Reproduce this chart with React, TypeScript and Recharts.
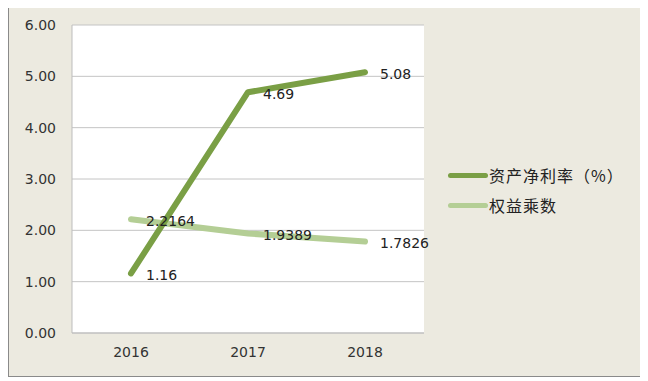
import React from 'react';
import { LineChart, Line, XAxis, YAxis, CartesianGrid } from 'recharts';

const years = ['2016', '2017', '2018'];
const roa = [1.16, 4.69, 5.08];
const equityMultiplier = [2.2164, 1.9389, 1.7826];
const yTicks = [0, 1, 2, 3, 4, 5, 6];

const seriesNames = ['资产净利率（%）', '权益乘数'];
const seriesColors = ['#7A9F45', '#B4CE95'];

const data = years.map((year, i) => ({
  year,
  roa: roa[i],
  em: equityMultiplier[i],
}));

const renderLabel = (props: any) => {
  const { x, y, value } = props;
  return (
    <text
      x={x + 15}
      y={y + 2}
      dominantBaseline="central"
      fontSize={14}
      fontFamily="'DejaVu Sans', sans-serif"
      fill="#222"
    >
      {value}
    </text>
  );
};

// legend drawn by hand so it doesn't eat into the plot area
const ChartLegend = () => (
  <div
    style={{
      position: 'absolute',
      left: 439,
      top: 154,
      fontFamily: "'Noto Sans CJK SC', sans-serif",
      fontSize: 16,
      color: '#222',
    }}
  >
    {seriesNames.map((name, i) => (
      <div key={name} style={{ display: 'flex', alignItems: 'center', height: 30 }}>
        <span
          style={{
            display: 'inline-block',
            width: 40,
            height: 5,
            borderRadius: 3,
            background: seriesColors[i],
            marginRight: 1,
          }}
        />
        <span style={{ letterSpacing: 1 }}>{name}</span>
      </div>
    ))}
  </div>
);

export default function App() {
  return (
    <div
      style={{
        position: 'relative',
        marginTop: -3,
        width: 633,
        height: 370,
        border: '1px solid #8a8a8a',
        boxShadow: '1px 1px 0 #a8a8a8',
        background: '#ECEAE0',
      }}
    >
      <LineChart
        width={633}
        height={370}
        data={data}
        margin={{ top: 19, right: 218, bottom: 13, left: 0 }}
      >
        <CartesianGrid vertical={false} stroke="#c4c4c4" fill="#ffffff" />
        <XAxis
          dataKey="year"
          height={30}
          padding={{ left: 59, right: 59 }}
          tickLine={false}
          tickMargin={8}
          axisLine={{ stroke: '#bdbdbd' }}
          tick={{ fontSize: 14, fill: '#333', fontFamily: "'DejaVu Sans', sans-serif" }}
        />
        <YAxis
          width={63}
          domain={[0, 6]}
          ticks={yTicks}
          tickFormatter={(v: number) => v.toFixed(2)}
          tickLine={false}
          tickMargin={10}
          axisLine={{ stroke: '#bdbdbd' }}
          tick={{ fontSize: 14, fill: '#333', fontFamily: "'DejaVu Sans', sans-serif" }}
        />
        <Line
          dataKey="em"
          name={seriesNames[1]}
          stroke={seriesColors[1]}
          strokeWidth={6}
          strokeLinecap="round"
          dot={false}
          label={renderLabel}
          isAnimationActive={false}
        />
        <Line
          dataKey="roa"
          name={seriesNames[0]}
          stroke={seriesColors[0]}
          strokeWidth={6}
          strokeLinecap="round"
          strokeLinejoin="round"
          dot={false}
          label={renderLabel}
          isAnimationActive={false}
        />
      </LineChart>
      <ChartLegend />
    </div>
  );
}
